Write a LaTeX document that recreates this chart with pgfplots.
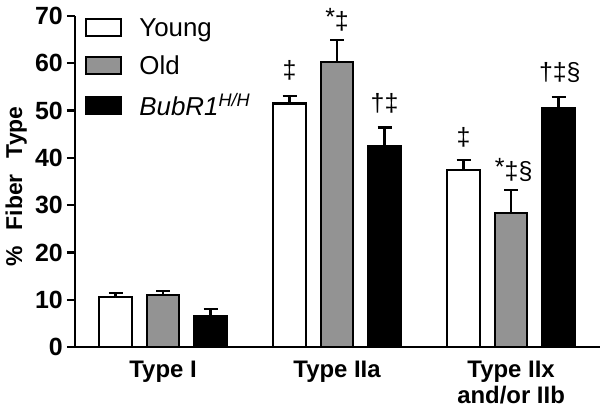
\documentclass[border=0pt]{standalone}
\usepackage{pgfplots}
\pgfplotsset{compat=1.18}
\usepackage{fontspec}
\setmainfont{Liberation Sans}
\begin{document}
\begin{tikzpicture}
\begin{axis}[
  scale only axis,
  width=525bp, height=331bp,
  xmin=-0.506, xmax=2.511,
  ymin=0, ymax=70,
  axis x line=bottom, axis y line=left,
  axis line style={-, line width=2.2bp},
  ytick={0,10,...,70},
  xtick={0,1,2},
  xticklabels={Type I, Type IIa, {Type IIx\\and/or IIb}},
  xticklabel style={align=center, font=\fontsize{24}{26}\selectfont\bfseries, yshift=-6bp, inner sep=0pt},
  x tick style={draw=none},
  major tick length=8bp,
  y tick style={line width=2.2bp, black},
  tick align=outside,
  yticklabel style={font=\fontsize{25}{26}\selectfont\bfseries, inner sep=0pt, xshift=-4bp},
  /pgf/number format/assume math mode=true,
  ylabel={\%\hspace{16bp}Fiber\hspace{16bp}Type},
  ylabel style={font=\fontsize{23}{24}\selectfont\bfseries, inner sep=0pt, yshift=8bp, xshift=-5bp},
  ybar, bar width=0.187,
  every axis plot/.append style={line width=2.2bp, draw=black},
  error bars/y dir=plus, error bars/y explicit,
  error bars/error mark options={rotate=90, mark size=7bp, line width=2.2bp},
  error bars/error bar style={line width=2.2bp},
  legend style={at={(rel axis cs:0.019,1.0)}, anchor=north west, draw=none, fill=none,
    font=\fontsize{26}{28}\selectfont, row sep=14bp, inner sep=0pt},
  legend cell align=left,
  legend image code/.code={\draw[#1, line width=2.2bp] (0bp,-8.5bp) rectangle (35bp,8.5bp); \path (50bp,0bp);},
  clip=false,
]
\addplot[fill=white, bar shift=-0.273] coordinates {(0,10.5) +- (0,1.0) (1,51.5) +- (0,1.6) (2,37.4) +- (0,2.1)};
\addplot[fill=gray!85, bar shift=0] coordinates {(0,11.0) +- (0,0.8) (1,60.3) +- (0,4.7) (2,28.3) +- (0,4.9)};
\addplot[fill=black, bar shift=0.273] coordinates {(0,6.5) +- (0,1.5) (1,42.5) +- (0,3.9) (2,50.6) +- (0,2.3)};
\legend{Young, Old, \textit{BubR1}\textsuperscript{\textit{H/H}}}
\begin{scope}[font=\fontsize{25}{26}\selectfont]
\node at (axis cs:0.727,58.6) {‡};
\node at (axis cs:1.0,69.1) {\raisebox{4bp}{*}‡};
\node at (axis cs:1.273,51.6) {†‡};
\node at (axis cs:1.727,44.4) {‡};
\node at (axis cs:2.015,37.4) {\raisebox{4bp}{*}‡§};
\node at (axis cs:2.28,58.1) {†‡§};
\end{scope}
\end{axis}
\pgfresetboundingbox
\path (current axis.south west) ++(-75bp,-65bp) rectangle ++(600bp,412bp);
\end{tikzpicture}
\end{document}
